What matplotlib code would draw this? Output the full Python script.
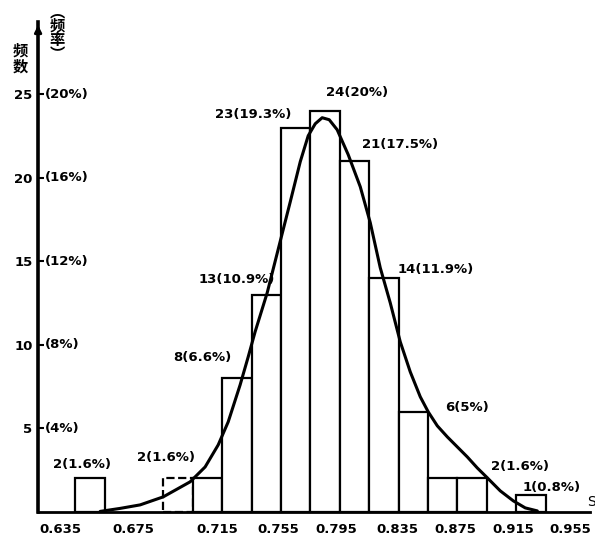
import numpy as np
import matplotlib.pyplot as plt
from matplotlib.transforms import blended_transform_factory

plt.rcParams['font.family'] = ['DejaVu Sans', 'Noto Sans CJK SC']

# --- data ---
BIN_START = 0.615
BIN_WIDTH = 0.02
COUNTS = [2, 0, 0, 2, 2, 8, 13, 23, 24, 21, 14, 6, 2, 2, 0, 1]
DASHED_BIN = 3  # drawn with a dashed outline in the original

# bar labels as printed: (x, y, text)
LABEL_X = [0.6198, 0.6769, 0.7014, 0.7252, 0.7361, 0.8068, 0.8361, 0.8599, 0.8817, 0.9177, 0.9388]
LABEL_Y = [2.81, 3.23, 9.22, 13.9, 23.8, 25.1, 22.0, 14.5, 6.23, 2.69, 1.44]
LABEL_TEXT = ['2(1.6%)', '2(1.6%)', '8(6.6%)', '13(10.9%)', '23(19.3%)', '24(20%)',
              '21(17.5%)', '14(11.9%)', '6(5%)', '2(1.6%)', '1(0.8%)']

# fitted curve, points
CURVE_X = [0.6320, 0.6456, 0.6592, 0.6749, 0.6932, 0.7034, 0.7123, 0.7191, 0.7272,
           0.7327, 0.7374, 0.7456, 0.7544, 0.7613, 0.7681, 0.7735, 0.7783, 0.7830,
           0.7878, 0.7932, 0.8007, 0.8089, 0.8157, 0.8225, 0.8293, 0.8361, 0.8429,
           0.8497, 0.8551, 0.8613, 0.8681, 0.8749, 0.8817, 0.8885, 0.8953, 0.9041,
           0.9130, 0.9211, 0.9293]
CURVE_Y = [0.03, 0.21, 0.42, 0.90, 1.80, 2.69, 4.01, 5.39, 7.60,
           9.28, 10.78, 13.11, 16.17, 18.56, 20.96, 22.51, 23.23, 23.59,
           23.47, 22.87, 21.38, 19.46, 17.31, 14.61, 12.51, 10.18, 8.38,
           6.89, 5.99, 5.15, 4.49, 3.89, 3.29, 2.63, 2.04, 1.26,
           0.66, 0.24, 0.06]

XTICK_LABELS = ['0.635', '0.675', '0.715', '0.755', '0.795', '0.835', '0.875', '0.915', '0.955']
XTICK_POS = [0.6048, 0.6545, 0.7116, 0.7531, 0.7925, 0.834, 0.8735, 0.9129, 0.9517]
YTICK_VALUES = [5, 10, 15, 20, 25]
YTICK_PCT = ['(4%)', '(8%)', '(12%)', '(16%)', '(20%)']


def main():
    fig = plt.figure(figsize=(5.95, 5.44), dpi=100)
    ax = fig.add_axes([0.064, 0.059, 0.928, 0.90])

    edges = BIN_START + BIN_WIDTH * np.arange(len(COUNTS))
    for i, (x0, c) in enumerate(zip(edges, COUNTS)):
        if c == 0:
            continue
        ax.bar(x0, c, width=BIN_WIDTH, align='edge', facecolor='white',
               edgecolor='black', linewidth=1.6,
               linestyle='--' if i == DASHED_BIN else '-', zorder=2)

    ax.plot(CURVE_X, CURVE_Y, color='black', linewidth=2.2, zorder=3,
            solid_capstyle='round', solid_joinstyle='round')

    for x, y, text in zip(LABEL_X, LABEL_Y, LABEL_TEXT):
        ax.text(x, y, text, ha='center', va='center', fontsize=9.5,
                fontweight='bold', zorder=4)

    ax.set_xlim(0.5898, 0.9653)
    ax.set_ylim(0, 29.3)

    for side in ('top', 'right'):
        ax.spines[side].set_visible(False)
    ax.spines['left'].set_linewidth(2.6)
    ax.spines['bottom'].set_linewidth(2.0)

    ax.set_xticks(XTICK_POS)
    ax.set_xticklabels(XTICK_LABELS, fontsize=9.5, fontweight='bold')
    ax.tick_params(axis='x', length=0, pad=8)

    ax.set_yticks(YTICK_VALUES)
    ax.set_yticklabels([str(v) for v in YTICK_VALUES], fontsize=9.5, fontweight='bold')
    ax.tick_params(axis='y', direction='in', length=4, width=1.5, pad=4)

    trans = blended_transform_factory(ax.transAxes, ax.transData)
    for v, pct in zip(YTICK_VALUES, YTICK_PCT):
        ax.text(0.012, v, pct, transform=trans, ha='left', va='center',
                fontsize=9.5, fontweight='bold')

    # arrow on the y axis, axis name on the x axis
    ax.annotate('', xy=(0, 1.0), xytext=(0, 0.97), xycoords='axes fraction',
                arrowprops=dict(arrowstyle='-|>', color='black', lw=2.0))
    ax.text(0.995, 0.02, 'S', transform=ax.transAxes, ha='left', va='center',
            fontsize=10)

    # vertical axis titles
    fig.text(0.034, 0.893, '频\n数', ha='center', va='center', fontsize=11,
             fontweight='bold', family=['Noto Sans CJK SC'], linespacing=1.0)
    fig.text(0.096, 0.94, '︵\n频\n率\n︶', ha='center', va='center', fontsize=11,
             fontweight='bold', family=['Noto Sans CJK SC'], linespacing=0.85)

    fig.savefig('out.png', dpi=100)


if __name__ == '__main__':
    main()
